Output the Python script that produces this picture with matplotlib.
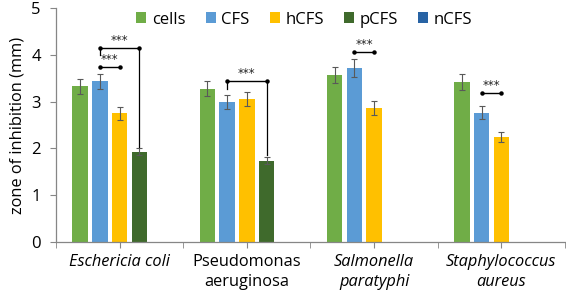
import numpy as np
import matplotlib
matplotlib.use("Agg")
import matplotlib.pyplot as plt

plt.rcParams['font.family'] = ['Open Sans', 'DejaVu Sans']

# DATA
bacteria = ['Eschericia coli', 'Pseudomonas\naeruginosa',
            'Salmonella\nparatyphi', 'Staphylococcus\naureus']
italic_label = [True, False, True, True]
series = ['cells', 'CFS', 'hCFS', 'pCFS', 'nCFS']
colors = ['#70AD47', '#5B9BD5', '#FFC000', '#3F6A2C', '#2863A4']

# values per series (nan = not tested)
cells = [3.33, 3.28, 3.57, 3.42]
cfs = [3.44, 2.99, 3.72, 2.76]
hcfs = [2.75, 3.06, 2.86, 2.24]
pcfs = [1.93, 1.74, np.nan, np.nan]
ncfs = [np.nan, np.nan, np.nan, np.nan]

cells_err = [0.16, 0.16, 0.18, 0.18]
cfs_err = [0.16, 0.15, 0.20, 0.14]
hcfs_err = [0.14, 0.15, 0.15, 0.11]
pcfs_err = [0.07, 0.08, np.nan, np.nan]
ncfs_err = [np.nan, np.nan, np.nan, np.nan]

values = [cells, cfs, hcfs, pcfs, ncfs]
errors = [cells_err, cfs_err, hcfs_err, pcfs_err, ncfs_err]

# significance brackets: (group, slot from, slot to, height, left drop to, right drop to)
sig_brackets = [
    (0, 1, 2, 3.75, None, None),
    (0, 1, 3, 4.16, 4.00, 2.02),
    (1, 1, 3, 3.45, 3.27, 1.85),
    (2, 1, 2, 4.07, None, None),
    (3, 1, 2, 3.19, None, None),
]

# PLOT
fig = plt.figure(figsize=(5.66, 2.96), dpi=100)
ax = fig.add_axes([0.099, 0.183, 0.899, 0.789])

x = np.arange(len(bacteria))
pitch = 0.155
width = 0.122

for i, (name, vals, errs, col) in enumerate(zip(series, values, errors, colors)):
    pos = x + (i - 2) * pitch
    ax.bar(pos, vals, width, color=col, label=name, zorder=2)
    ax.errorbar(pos, vals, yerr=errs, fmt='none', ecolor='#595959',
                elinewidth=0.8, capsize=2.5, capthick=0.8, zorder=3)

for g, s1, s2, h, ld, rd in sig_brackets:
    x1 = g + (s1 - 2) * pitch
    x2 = g + (s2 - 2) * pitch
    ax.plot([x1, x2], [h, h], color='black', lw=1.0, zorder=4,
            marker='o', markersize=2.2)
    if ld is not None:
        ax.plot([x1, x1], [h, ld], color='black', lw=0.9, zorder=4)
    if rd is not None:
        ax.plot([x2, x2], [h, rd], color='black', lw=0.9, zorder=4)
    ax.text((x1 + x2) / 2, h + 0.15, '***', ha='center', va='center',
            fontsize=8.5, family='DejaVu Sans', color='#222222')

ax.set_xlim(-0.5, 3.5)
ax.set_ylim(0, 5)
ax.set_yticks(range(6))
ax.set_ylabel('zone of inhibition (mm)', fontsize=11.8, labelpad=4)

ax.set_xticks(x)
ax.set_xticklabels(bacteria, fontsize=11.8, linespacing=1.3)
for lab, it in zip(ax.get_xticklabels(), italic_label):
    if it:
        lab.set_style('italic')
ax.set_xticks(np.arange(-0.5, 4.0, 1.0), minor=True)

for side in ['top', 'right']:
    ax.spines[side].set_visible(False)
for side in ['left', 'bottom']:
    ax.spines[side].set_color('#868686')
    ax.spines[side].set_linewidth(0.9)

ax.tick_params(axis='y', labelsize=12, length=4, color='#868686', pad=7)
ax.tick_params(axis='x', which='both', length=4, color='#868686', pad=5)

ax.legend(loc='upper center', bbox_to_anchor=(0.488, 1.05), ncol=5,
          frameon=False, fontsize=12, handlelength=0.6, handleheight=0.6,
          handletextpad=0.35, columnspacing=1.2)

fig.savefig('out.png', dpi=100)
